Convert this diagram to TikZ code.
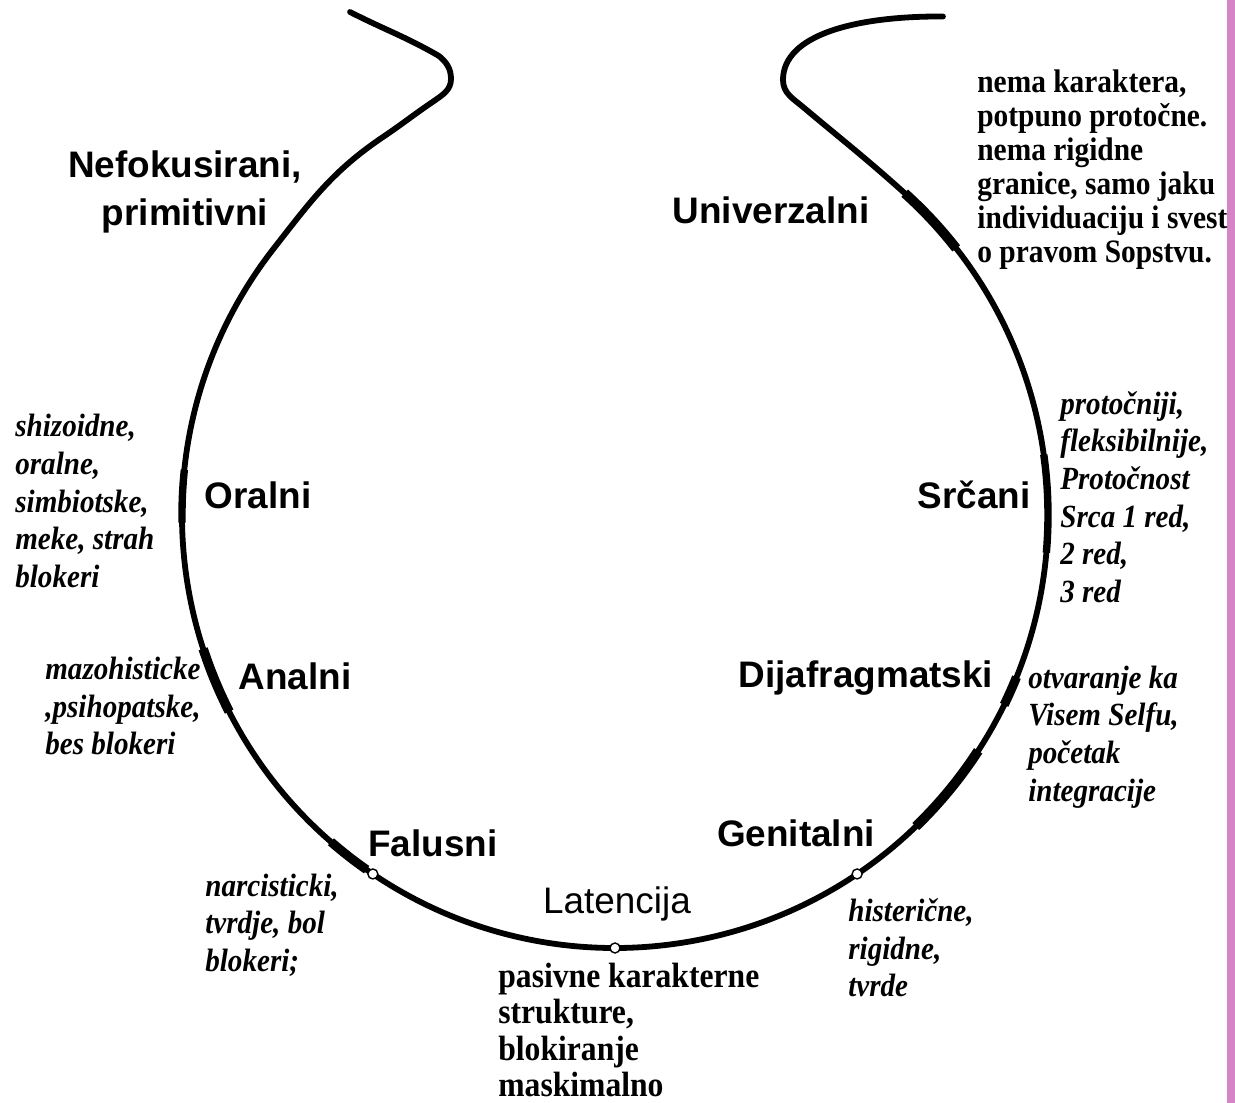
\documentclass[tikz,border=0pt]{standalone}
\usepackage{fontspec}
\setmainfont{Liberation Serif}
\setsansfont{Liberation Sans}
\newfontfamily\notefont[FakeStretch=0.9]{Liberation Serif}
\usepackage{tikz}
\tikzset{>=latex}
\definecolor{barpink}{RGB}{214,132,200}
\tikzset{
  stage/.style={font=\sffamily\bfseries\fontsize{21}{27.5}\selectfont, inner sep=0pt},
  note/.style={font=\notefont\bfseries\fontsize{18.6}{19.3}\selectfont, align=left, anchor=west, inner sep=0pt},
  noteit/.style={font=\notefont\bfseries\itshape\fontsize{18.4}{21.4}\selectfont, align=left, anchor=west, inner sep=0pt},
  dot/.style={circle, draw, fill=white, line width=0.8pt, inner sep=0pt, minimum size=0.2cm}
}

\begin{document}
\begin{tikzpicture}
  \def\rad{8.66}
  \useasboundingbox (-12.3,-11.76) rectangle (12.4,10.3);
  \fill[barpink] (12.24,-11.76) rectangle (12.4,10.3);

  % open ring with the two hooks at the top
  \draw[line width=3.3pt, line cap=round]
    (-5.30,10.06) to[out=-27,in=150] (-3.52,9.18) to[out=-40,in=90] (-3.28,8.72)
    to[out=-90,in=35] (-3.62,8.28) to[out=-146,in=34] (-4.64,7.56)
    to[out=-146,in=52] (142:\rad)
    arc[start angle=142, end angle=408, radius=\rad]
    to[out=138,in=-40] (3.76,8.16) to[out=140,in=-90] (3.36,8.70)
    .. controls (3.36,9.6) and (4.8,9.98) .. (6.56,9.97);

  % thicker pieces where one stage meets the next
  \foreach \a/\b/\w in {174/181/4.2, 198/207/5.4, 229/235/5.2, 314/327/5.6, 334/338/5.2, 355/368/4.2, 398/408/5.6}
    {
      \draw[line width=\w pt] (\a:\rad) arc[start angle=\a, end angle=\b, radius=\rad];
    }

  \node[dot] (dfal) at (236:\rad) {};
  \node[dot] (dlat) at (270:\rad) {};
  \node[dot] (dgen) at (304:\rad) {};

  % stages
  \node[stage, align=center] (nefok) at (-8.60,6.46) {Nefokusirani,\\primitivni};
  \node[stage] (univ) at (3.12,6.10) {Univerzalni};
  \node[stage] (oral) at (-7.14,0.40) {Oralni};
  \node[stage] (srce) at (7.18,0.40) {Srčani};
  \node[stage] (anal) at (-6.40,-3.22) {Analni};
  \node[stage] (dijaf) at (5.02,-3.26) {Dijafragmatski};
  \node[stage] (falus) at (-3.64,-6.56) {Falusni};
  \node[stage] (genit) at (3.62,-6.36) {Genitalni};
  \node[stage, font=\sffamily\fontsize{21}{26}\selectfont] (laten) at (0.04,-7.78) {Latencija};

  % character structures
  \node[note] (nuniv) at (7.24,6.91) {nema karaktera,\\potpuno protočne.\\nema rigidne\\granice, samo jaku\\individuaciju i svest\\o pravom Sopstvu.};
  \node[noteit] (noral) at (-12.00,0.28) {shizoidne,\\oralne,\\simbiotske,\\meke, strah\\blokeri};
  \node[noteit] (nsrce) at (8.90,0.36) {protočniji,\\fleksibilnije,\\Protočnost\\Srca 1 red,\\2 red,\\3 red};
  \node[noteit] (nanal) at (-11.40,-3.82) {mazohisticke\\,psihopatske,\\bes blokeri};
  \node[noteit] (ndijaf) at (8.26,-4.44) {otvaranje ka\\Visem Selfu,\\početak\\integracije};
  \node[noteit] (nfalus) at (-8.20,-8.20) {narcisticki,\\tvrdje, bol\\blokeri;};
  \node[noteit] (ngenit) at (4.66,-8.66) {histerične,\\rigidne,\\tvrde};
  \node[note, font=\notefont\bfseries\fontsize{20}{20.6}\selectfont] (nlaten) at (-2.34,-10.30) {pasivne karakterne\\strukture,\\blokiranje\\maskimalno};
\end{tikzpicture}
\end{document}
